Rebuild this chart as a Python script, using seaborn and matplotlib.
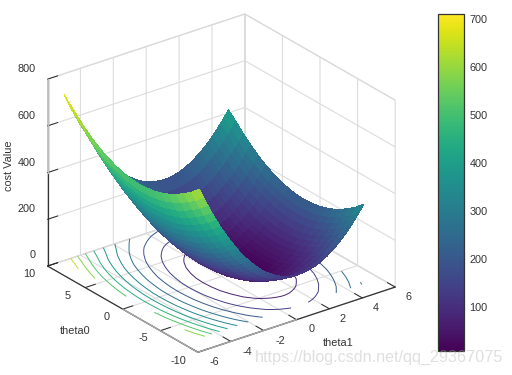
import numpy as np
import matplotlib
matplotlib.use('Agg')
import matplotlib.pyplot as plt
import seaborn as sns

theta0_vals = [-8, -7, -6, -5, -4, -3, -2, -1, 0, 1, 2, 3, 4, 5, 6, 7, 8, 9, 10]
theta1_vals = [-5, -4.75, -4.5, -4.25, -4, -3.75, -3.5, -3.25, -3, -2.75, -2.5, -2.25, -2, -1.75, -1.5, -1.25, -1, -0.75, -0.5, -0.25, 0,
               0.25, 0.5, 0.75, 1, 1.25, 1.5, 1.75, 2, 2.25, 2.5, 2.75, 3, 3.25, 3.5, 3.75, 4, 4.25, 4.5, 4.75, 5]

# cost, one row per theta0
cost_m8 = [637,597,558,521,485,452,420,389,361,334,308,285,263,243,224,207,192,179,167,157,149,143,138,135,133,133,135,139,144,151,160,170,183,196,212,229,248,269,291,315,341]
cost_m7 = [607,567,528,491,455,422,390,359,331,304,278,255,233,213,194,177,162,149,137,127,119,113,108,105,103,103,105,109,114,121,130,140,153,166,182,199,218,239,261,285,311]
cost_m6 = [582,542,503,466,430,397,365,334,306,279,253,230,208,188,169,152,137,124,112,102,94,88,83,80,78,78,80,84,89,96,105,115,128,141,157,174,193,214,236,260,286]
cost_m5 = [560,520,481,444,408,375,343,312,284,257,231,208,186,166,147,130,115,102,90,80,72,66,61,58,56,56,58,62,67,74,83,93,106,119,135,152,171,192,214,238,264]
cost_m4 = [542,502,463,426,390,357,325,294,266,239,213,190,168,148,129,112,97,84,72,62,54,48,43,40,38,38,40,44,49,56,65,75,88,101,117,134,153,174,196,220,246]
cost_m3 = [529,489,450,413,377,344,312,281,253,226,200,177,155,135,116,99,84,71,59,49,41,35,30,27,25,25,27,31,36,43,52,62,75,88,104,121,140,161,183,207,233]
cost_m2 = [519,479,440,403,367,334,302,271,243,216,190,167,145,125,106,89,74,61,49,39,31,25,20,17,15,15,17,21,26,33,42,52,65,78,94,111,130,151,173,197,223]
cost_m1 = [514,474,435,398,362,329,297,266,238,211,185,162,140,120,101,84,69,56,44,34,26,20,15,12,10,10,12,16,21,28,37,47,60,73,89,106,125,146,168,192,218]
cost_0 = [512,472,433,396,360,327,295,264,236,209,183,160,138,118,99,82,67,54,42,32,24,18,13,10,8,8,10,14,19,26,35,45,58,71,87,104,123,144,166,190,216]
cost_1 = [514,474,435,398,362,329,297,266,238,211,185,162,140,120,101,84,69,56,44,34,26,20,15,12,10,10,12,16,21,28,37,47,60,73,89,106,125,146,168,192,218]
cost_2 = [521,481,442,405,369,336,304,273,245,218,192,169,147,127,108,91,76,63,51,41,33,27,22,19,17,17,19,23,28,35,44,54,67,80,96,113,132,153,175,199,225]
cost_3 = [531,491,452,415,379,346,314,283,255,228,202,179,157,137,118,101,86,73,61,51,43,37,32,29,27,27,29,33,38,45,54,64,77,90,106,123,142,163,185,209,235]
cost_4 = [546,506,467,430,394,361,329,298,270,243,217,194,172,152,133,116,101,88,76,66,58,52,47,44,42,42,44,48,53,60,69,79,92,105,121,138,157,178,200,224,250]
cost_5 = [564,524,485,448,412,379,347,316,288,261,235,212,190,170,151,134,119,106,94,84,76,70,65,62,60,60,62,66,71,78,87,97,110,123,139,156,175,196,218,242,268]
cost_6 = [586,546,507,470,434,401,369,338,310,283,257,234,212,192,173,156,141,128,116,106,98,92,87,84,82,82,84,88,93,100,109,119,132,145,161,178,197,218,240,264,290]
cost_7 = [613,573,534,497,461,428,396,365,337,310,284,261,239,219,200,183,168,155,143,133,125,119,114,111,109,109,111,115,120,127,136,146,159,172,188,205,224,245,267,291,317]
cost_8 = [643,603,564,527,491,458,426,395,367,340,314,291,269,249,230,213,198,185,173,163,155,149,144,141,139,139,141,145,150,157,166,176,189,202,218,235,254,275,297,321,347]
cost_9 = [678,638,599,562,526,493,461,430,402,375,349,326,304,284,265,248,233,220,208,198,190,184,179,176,174,174,176,180,185,192,201,211,224,237,253,270,289,310,332,356,382]
cost_10 = [710,670,631,594,558,525,493,462,434,407,381,358,336,316,297,280,265,252,240,230,222,216,211,208,206,206,208,212,217,224,233,243,256,269,285,302,321,342,364,388,414]

levels = [74, 137, 201, 265, 328, 392, 455, 519, 583, 646]
theta1_ticks = [-6, -4, -2, 0, 2, 4, 6]
theta0_ticks = [-10, -5, 0, 5, 10]
z_ticks = [0, 200, 400, 600, 800]
cbar_ticks = [100, 200, 300, 400, 500, 600, 700]

sns.set_style('white')
plt.rcParams['font.family'] = ['Liberation Sans', 'DejaVu Sans']
plt.rcParams['font.size'] = 7.8
plt.rcParams['text.color'] = '#333333'
plt.rcParams['axes.unicode_minus'] = False

cmap = sns.color_palette('viridis', as_cmap=True)
norm = matplotlib.colors.Normalize(8, 710)

W, H = 512, 375
fig = plt.figure(figsize=(W / 100, H / 100), dpi=100)
ax = fig.add_axes([-0.0791, -0.084, 1.0, 1.16], projection='3d', computed_zorder=False)
ax.set_proj_type('ortho')
ax.view_init(elev=25.8, azim=-127.2)
ax.set_box_aspect((247, 248, 207), zoom=0.91)

X, Y = np.meshgrid(theta1_vals, theta0_vals)
Z = np.array([cost_m8, cost_m7, cost_m6, cost_m5, cost_m4, cost_m3, cost_m2, cost_m1, cost_0, cost_1, cost_2,
              cost_3, cost_4, cost_5, cost_6, cost_7, cost_8, cost_9, cost_10], dtype=float)

ax.contour(X, Y, Z, levels=levels, zdir='z', offset=0, cmap=cmap, norm=norm, linewidths=0.7, zorder=1)
ax.plot_surface(X, Y, Z, cmap=cmap, norm=norm, rstride=1, cstride=1, linewidth=0, antialiased=False, shade=False, zorder=2)

# part of each axis line is grey in the original
ax.plot([-6, 0], [-10, -10], [0, 0], color='#a8a8a8', lw=1, zorder=3)
ax.plot([-6, -6], [-10, 0], [0, 0], color='#a8a8a8', lw=1, zorder=3)
ax.plot([-6, -6], [10, 10], [400, 800], color='#bdbdbd', lw=1, zorder=0)

ax.set_xlim(-6, 6)
ax.set_ylim(-10, 10)
ax.set_zlim(0, 800)
ax.set_xticks(theta1_ticks)
ax.set_yticks(theta0_ticks)
ax.set_zticks(z_ticks)
ax.set_xticklabels([])
ax.set_yticklabels([])
ax.set_zticklabels([])

for axis in (ax.xaxis, ax.yaxis, ax.zaxis):
    axis.set_pane_color((1, 1, 1, 1))
    axis.pane.set_edgecolor('#d0d0d0')
    axis.pane.set_linewidth(0.8)
    axis._axinfo['grid']['color'] = '#dcdcdc'
    axis._axinfo['grid']['linewidth'] = 0.8
    axis._axinfo['tick']['inward_factor'] = 0.0
    axis._axinfo['tick']['outward_factor'] = 0.65
    axis._axinfo['tick']['color'] = 'black'
    axis._axinfo['tick']['linewidth'] = {True: 0.7, False: 0.5}
    axis.line.set_color('#333333')
    axis.line.set_linewidth(0.9)


def px_text(x, y, s, **kw):
    fig.text(x / W, 1 - y / H, s, ha='center', va='center', fontsize=7.8, **kw)


for v, (x, y) in zip(z_ticks, [(33, 255), (27, 209), (27, 163), (26, 116), (27, 69)]):
    px_text(x, y, str(v))
for v, (x, y) in zip(theta0_ticks, [(178, 361), (143, 338), (107, 317), (68, 296), (29, 274)]):
    px_text(x, y, str(v))
for v, (x, y) in zip(theta1_ticks, [(214, 362), (247, 352), (280, 341), (312, 329), (343, 319), (376, 308), (409, 297)]):
    px_text(x, y, str(v))

px_text(9, 166, 'cost Value', rotation=90)
px_text(75, 331, 'theta0')
px_text(338, 343, 'theta1')

cax = fig.add_axes([438 / W, 1 - 351 / H, 26 / W, 337 / H])
sm = matplotlib.cm.ScalarMappable(norm=norm, cmap=cmap)
cb = fig.colorbar(sm, cax=cax, ticks=cbar_ticks)
cb.outline.set_edgecolor('#333333')
cb.outline.set_linewidth(0.9)
cax.tick_params(axis='y', left=True, right=True, direction='in', length=3, width=0.7, color='#262626',
                labelcolor='#333333', labelsize=7.8, pad=4)

fig.text(503 / W, 1 - 357 / H, 'https://blog.csdn.net/qq_29367075', ha='right', va='center', fontsize=11.6,
         color='#b0b0b0', alpha=0.4)

fig.savefig('out.png', dpi=100)
